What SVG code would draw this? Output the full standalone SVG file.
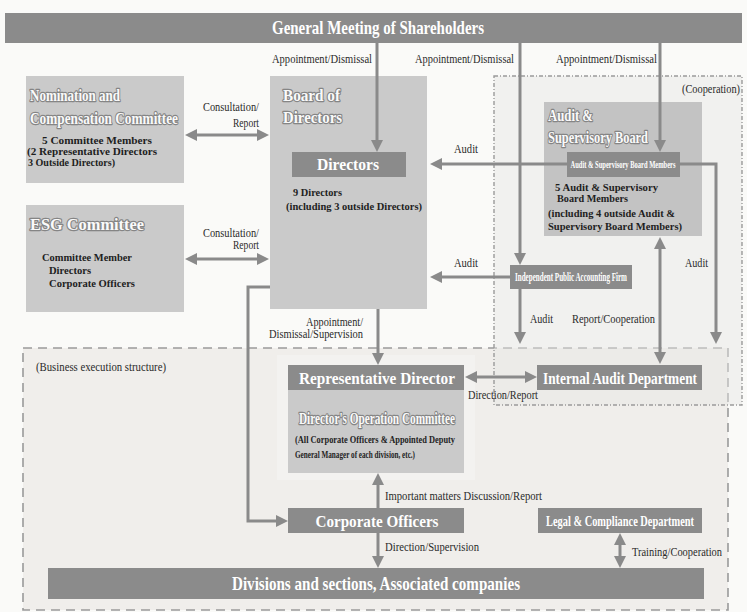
<svg xmlns="http://www.w3.org/2000/svg" width="747" height="612" viewBox="0 0 747 612">
<defs>
<style>
.f{font-family:"Liberation Serif","Times New Roman",serif}
.lt{fill:#cacaca}
.dk{fill:#8b8b8b}
.ln{stroke:#8a8a8a;stroke-width:3;fill:none}
.wt{font-family:"Liberation Serif","Times New Roman",serif;font-weight:bold;fill:#ffffff}
.ot{font-family:"Liberation Serif","Times New Roman",serif;font-weight:bold;fill:#fafafa;stroke:#858585;stroke-width:2.4;paint-order:stroke;stroke-linejoin:round}
.bd{font-family:"Liberation Serif","Times New Roman",serif;font-weight:bold;fill:#1e1e1e;font-size:11px}
.lb{font-family:"Liberation Serif","Times New Roman",serif;fill:#2a2a2a;font-size:11.5px}
</style>
<marker id="ah" viewBox="0 0 12 12" refX="3" refY="6" markerWidth="12" markerHeight="12" markerUnits="userSpaceOnUse" orient="auto-start-reverse"><path d="M0,0L12,6L0,12z" fill="#8a8a8a"/></marker>
</defs>
<rect width="747" height="612" fill="#fafaf8"/>

<g id="business-area">
<rect x="23" y="348" width="705" height="262" fill="#f0eeeb" stroke="#9a9a9a" stroke-width="1.6" stroke-dasharray="9 6"/>
<rect x="277" y="355" width="198" height="125" fill="#f3f2f0"/>
<text class="lb" x="36" y="371" font-size="12" textLength="130" lengthAdjust="spacingAndGlyphs">(Business execution structure)</text>
</g>

<g id="cooperation-area">
<rect x="494" y="76" width="248" height="329" fill="#e6e6e4" fill-opacity="0.45" stroke="#9a9a9a" stroke-width="1.4" stroke-dasharray="4 2 1 2"/>
<text class="lb" x="740" y="93" font-size="12" text-anchor="end" textLength="58" lengthAdjust="spacingAndGlyphs">(Cooperation)</text>
</g>

<g id="shareholders">
<rect x="5" y="13" width="737" height="30" class="dk"/>
<text class="wt" x="378" y="34" font-size="19" text-anchor="middle" textLength="212" lengthAdjust="spacingAndGlyphs">General Meeting of Shareholders</text>
</g>

<g id="nomination">
<rect x="26" y="76" width="158" height="107" class="lt"/>
<text class="ot" x="30" y="101" font-size="17" textLength="90" lengthAdjust="spacingAndGlyphs">Nomination and</text>
<text class="ot" x="30" y="124" font-size="17" textLength="148" lengthAdjust="spacingAndGlyphs">Compensation Committee</text>
<text class="bd" x="42" y="144" font-size="10.5" textLength="110" lengthAdjust="spacingAndGlyphs">5 Committee Members</text>
<text class="bd" x="27" y="155" font-size="10.5" textLength="130" lengthAdjust="spacingAndGlyphs">(2 Representative Directors</text>
<text class="bd" x="28" y="166" font-size="10.5" textLength="87" lengthAdjust="spacingAndGlyphs">3 Outside Directors)</text>
</g>

<g id="esg">
<rect x="26" y="205" width="158" height="107" class="lt"/>
<text class="ot" x="30" y="230" font-size="17" textLength="114" lengthAdjust="spacingAndGlyphs">ESG Committee</text>
<text class="bd" x="42" y="261" textLength="90" lengthAdjust="spacingAndGlyphs">Committee Member</text>
<text class="bd" x="49" y="274" textLength="42" lengthAdjust="spacingAndGlyphs">Directors</text>
<text class="bd" x="49" y="287" textLength="86" lengthAdjust="spacingAndGlyphs">Corporate Officers</text>
</g>

<g id="board">
<rect x="270" y="76" width="157" height="233" class="lt"/>
<text class="ot" x="283" y="101" font-size="17" textLength="57" lengthAdjust="spacingAndGlyphs">Board of</text>
<text class="ot" x="283" y="123" font-size="17" textLength="59" lengthAdjust="spacingAndGlyphs">Directors</text>
</g>

<g id="directors">
<rect x="292" y="152" width="114" height="25" class="dk"/>
<text class="wt" x="348" y="170" font-size="17" text-anchor="middle" textLength="62" lengthAdjust="spacingAndGlyphs">Directors</text>
<text class="bd" x="293" y="196" textLength="49" lengthAdjust="spacingAndGlyphs">9 Directors</text>
<text class="bd" x="286" y="210" textLength="136" lengthAdjust="spacingAndGlyphs">(including 3 outside Directors)</text>
</g>

<g id="asb">
<rect x="544" y="102" width="158" height="134" fill="#c3c3c3"/>
<text class="ot" x="548" y="121" font-size="17" textLength="45" lengthAdjust="spacingAndGlyphs">Audit &amp;</text>
<text class="ot" x="548" y="143" font-size="17" textLength="100" lengthAdjust="spacingAndGlyphs">Supervisory Board</text>
</g>

<g id="asb-members">
<rect x="567" y="152" width="113" height="25" class="dk"/>
<text class="wt" x="623" y="168" font-size="11" font-weight="normal" text-anchor="middle" textLength="105" lengthAdjust="spacingAndGlyphs">Audit &amp; Supervisory Board Members</text>
<text class="bd" x="555" y="191" font-size="11.5" textLength="103" lengthAdjust="spacingAndGlyphs">5 Audit &amp; Supervisory</text>
<text class="bd" x="557" y="202" font-size="11.5" textLength="71" lengthAdjust="spacingAndGlyphs">Board Members</text>
<text class="bd" x="548" y="217" font-size="11.5" textLength="127" lengthAdjust="spacingAndGlyphs">(including 4 outside Audit &amp;</text>
<text class="bd" x="548" y="230" font-size="11.5" textLength="134" lengthAdjust="spacingAndGlyphs">Supervisory Board Members)</text>
</g>

<g id="accounting-firm">
<rect x="510" y="265" width="122" height="24" class="dk"/>
<text class="wt" x="571" y="281" font-size="11.5" font-weight="normal" text-anchor="middle" textLength="112" lengthAdjust="spacingAndGlyphs">Independent Public Accounting Firm</text>
</g>

<g id="rep-director">
<rect x="288" y="365" width="176" height="25" class="dk"/>
<text class="wt" x="377" y="384" font-size="17" text-anchor="middle" textLength="156" lengthAdjust="spacingAndGlyphs">Representative Director</text>
</g>

<g id="operation-committee">
<rect x="288" y="390" width="176" height="83" class="lt"/>
<text class="ot" x="377" y="424" font-size="16" text-anchor="middle" textLength="156" lengthAdjust="spacingAndGlyphs">Director's Operation Committee</text>
<text class="bd" x="295" y="443" font-size="10" textLength="160" lengthAdjust="spacingAndGlyphs">(All Corporate Officers &amp; Appointed Deputy</text>
<text class="bd" x="295" y="458" font-size="10" textLength="120" lengthAdjust="spacingAndGlyphs">General Manager of each division, etc.)</text>
</g>

<g id="internal-audit">
<rect x="537" y="365" width="165" height="25" class="dk"/>
<text class="wt" x="620" y="384" font-size="17" text-anchor="middle" textLength="154" lengthAdjust="spacingAndGlyphs">Internal Audit Department</text>
</g>

<g id="corporate-officers">
<rect x="288" y="508" width="176" height="25" class="dk"/>
<text class="wt" x="377" y="527" font-size="17" text-anchor="middle" textLength="123" lengthAdjust="spacingAndGlyphs">Corporate Officers</text>
</g>

<g id="legal">
<rect x="538" y="508" width="164" height="25" class="dk"/>
<text class="wt" x="620" y="526" font-size="14" font-weight="normal" text-anchor="middle" textLength="148" lengthAdjust="spacingAndGlyphs">Legal &amp; Compliance Department</text>
</g>

<g id="divisions">
<rect x="48" y="568" width="656" height="31" class="dk"/>
<text class="wt" x="376" y="590" font-size="19" text-anchor="middle" textLength="288" lengthAdjust="spacingAndGlyphs">Divisions and sections, Associated companies</text>
</g>

<g id="connectors">
<path class="ln" d="M377,43V143" marker-end="url(#ah)"/>
<path class="ln" d="M520,43V256" marker-end="url(#ah)"/>
<path class="ln" d="M660,43V143" marker-end="url(#ah)"/>
<path class="ln" d="M194,135H260" marker-start="url(#ah)" marker-end="url(#ah)"/>
<path class="ln" d="M194,259H260" marker-start="url(#ah)" marker-end="url(#ah)"/>
<path class="ln" d="M567,164H439" marker-end="url(#ah)"/>
<path class="ln" d="M680,164H716V335" marker-end="url(#ah)"/>
<path class="ln" d="M510,277H439" marker-end="url(#ah)"/>
<path class="ln" d="M520,289V335" marker-end="url(#ah)"/>
<path class="ln" d="M660,246V355" marker-start="url(#ah)" marker-end="url(#ah)"/>
<path class="ln" d="M378,309V356" marker-end="url(#ah)"/>
<path class="ln" d="M270,287H248V521H279" marker-end="url(#ah)"/>
<path class="ln" d="M474,377H528" marker-start="url(#ah)" marker-end="url(#ah)"/>
<path class="ln" d="M378,508V482" marker-end="url(#ah)"/>
<path class="ln" d="M378,533V559" marker-end="url(#ah)"/>
<path class="ln" d="M620,542V559" marker-start="url(#ah)" marker-end="url(#ah)"/>

<text class="lb" x="372" y="63" text-anchor="end" textLength="100" lengthAdjust="spacingAndGlyphs">Appointment/Dismissal</text>
<text class="lb" x="514" y="63" text-anchor="end" textLength="99" lengthAdjust="spacingAndGlyphs">Appointment/Dismissal</text>
<text class="lb" x="657" y="63" text-anchor="end" textLength="101" lengthAdjust="spacingAndGlyphs">Appointment/Dismissal</text>
<text class="lb" x="259" y="111" text-anchor="end" textLength="56" lengthAdjust="spacingAndGlyphs">Consultation/</text>
<text class="lb" x="259" y="127" text-anchor="end" textLength="26" lengthAdjust="spacingAndGlyphs">Report</text>
<text class="lb" x="259" y="237" text-anchor="end" textLength="56" lengthAdjust="spacingAndGlyphs">Consultation/</text>
<text class="lb" x="259" y="249" text-anchor="end" textLength="26" lengthAdjust="spacingAndGlyphs">Report</text>
<text class="lb" x="454" y="153" textLength="24" lengthAdjust="spacingAndGlyphs">Audit</text>
<text class="lb" x="454" y="267" textLength="24" lengthAdjust="spacingAndGlyphs">Audit</text>
<text class="lb" x="685" y="267" textLength="23" lengthAdjust="spacingAndGlyphs">Audit</text>
<text class="lb" x="530" y="323" textLength="23" lengthAdjust="spacingAndGlyphs">Audit</text>
<text class="lb" x="572" y="323" textLength="83" lengthAdjust="spacingAndGlyphs">Report/Cooperation</text>
<text class="lb" x="363" y="326" text-anchor="end" textLength="57" lengthAdjust="spacingAndGlyphs">Appointment/</text>
<text class="lb" x="363" y="338" text-anchor="end" textLength="94" lengthAdjust="spacingAndGlyphs">Dismissal/Supervision</text>
<text class="lb" x="468" y="399" textLength="70" lengthAdjust="spacingAndGlyphs">Direction/Report</text>
<text class="lb" x="385" y="500" textLength="157" lengthAdjust="spacingAndGlyphs">Important matters Discussion/Report</text>
<text class="lb" x="385" y="551" textLength="94" lengthAdjust="spacingAndGlyphs">Direction/Supervision</text>
<text class="lb" x="632" y="556" textLength="90" lengthAdjust="spacingAndGlyphs">Training/Cooperation</text>
</g>
</svg>
